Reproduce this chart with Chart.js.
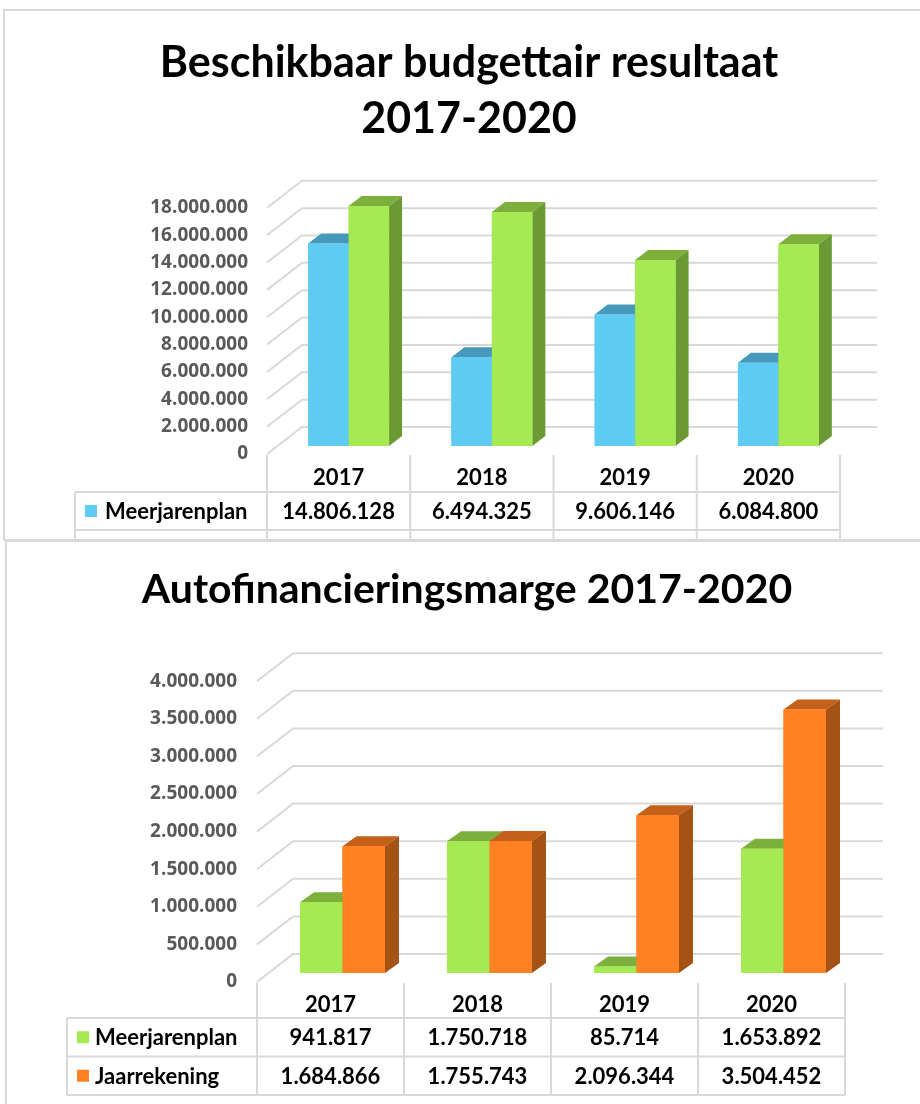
<!DOCTYPE html>
<html>
<head>
<meta charset="utf-8">
<title>Beschikbaar budgettair resultaat / Autofinancieringsmarge</title>
<script src="https://cdn.jsdelivr.net/npm/chart.js@4.4.1/dist/chart.umd.min.js"></script>
<style>
  html, body { margin: 0; padding: 0; background: #fff; }
  body { width: 920px; height: 1104px; position: relative; overflow: hidden; }
  .panel { position: absolute; border: 2px solid #d9d9d9; }
  #panelTop { left: 3px; top: 9px; width: 940px; height: 528px; }
  #panelBottom { left: 5px; top: 540px; width: 940px; height: 600px; }
  canvas { position: absolute; left: 0; }
  #topChart { top: 0; }
  #bottomChart { top: 541px; }
</style>
</head>
<body>
<div class="panel" id="panelTop"></div>
<div class="panel" id="panelBottom"></div>
<canvas id="topChart" width="920" height="540"></canvas>
<canvas id="bottomChart" width="920" height="563"></canvas>
<script>
const years = ['2017', '2018', '2019', '2020'];

// Beschikbaar budgettair resultaat
const budgetPlan = [14806128, 6494325, 9606146, 6084800];
// second row of the table is cut off in the source
const budgetActual = [17550000, 17100000, 13600000, 14750000];
const budgetMax = 18000000;
const budgetStep = 2000000;

// Autofinancieringsmarge
const afmPlan = [941817, 1750718, 85714, 1653892];
const afmActual = [1684866, 1755743, 2096344, 3504452];
const afmMax = 4000000;
const afmStep = 500000;

const BLUE = { front: '#5ecbf2', top: '#4699ba', side: '#3f8db0' };
const GREEN = { front: '#a5ea52', top: '#7daf3d', side: '#6b9a34' };
const ORANGE = { front: '#ff8122', top: '#c4601a', side: '#a55215' };

const GRID = '#d9d9d9';
const TEXT_FONT = 'Lato, "Open Sans", sans-serif';
const TICK_FONT = '"Open Sans", "DejaVu Sans", sans-serif';

// 1234567 -> 1.234.567
const fmt = v => String(Math.round(v)).replace(/\B(?=(\d{3})+(?!\d))/g, '.');

// fakes Excel's 3D column look: back wall grid, bar top/side faces, data table
const fake3d = {
  id: 'fake3d',
  beforeDatasetsDraw(chart, args, o) {
    const { ctx, chartArea: a } = chart;
    const ys = chart.scales.y;
    ctx.save();
    ctx.strokeStyle = GRID;
    ctx.lineWidth = 2;
    ys.ticks.forEach(t => {
      const py = ys.getPixelForValue(t.value);
      ctx.beginPath();
      ctx.moveTo(a.left + o.front[0], py + o.front[1]);
      ctx.lineTo(a.left + o.back[0], py + o.back[1]);
      ctx.lineTo(a.right + o.back[0] + 2, py + o.back[1]);
      ctx.stroke();
    });
    ctx.restore();
  },
  afterDatasetsDraw(chart, args, o) {
    const ctx = chart.ctx;
    const [dx, dy] = o.depth;
    const n = chart.data.labels.length;
    for (let i = 0; i < n; i++) {
      chart.data.datasets.forEach((ds, d) => {
        const el = chart.getDatasetMeta(d).data[i];
        const { x, y, base, width } = el.getProps(['x', 'y', 'base', 'width'], true);
        const l = x - width / 2, r = x + width / 2;
        const faces = o.faces[d];
        ctx.save();
        ctx.fillStyle = faces.top;
        ctx.beginPath();
        ctx.moveTo(l, y); ctx.lineTo(r, y); ctx.lineTo(r + dx, y - dy); ctx.lineTo(l + dx, y - dy);
        ctx.closePath(); ctx.fill();
        ctx.fillStyle = faces.side;
        ctx.beginPath();
        ctx.moveTo(r, y); ctx.lineTo(r + dx, y - dy); ctx.lineTo(r + dx, base - dy); ctx.lineTo(r, base);
        ctx.closePath(); ctx.fill();
        ctx.restore();
        el.draw(ctx);
      });
    }
  },
  afterDraw(chart, args, o) {
    const { ctx, chartArea: a } = chart;
    const xs = chart.scales.x;
    const n = chart.data.labels.length;
    const w = (a.right - a.left) / n;
    const colX = i => a.left + o.front[0] + i * w;
    const floorY = a.bottom + o.front[1];
    const rows = chart.data.datasets;
    const tableBottom = o.rowTop + rows.length * o.rowH;

    ctx.save();
    ctx.strokeStyle = GRID;
    ctx.lineWidth = 2;
    ctx.beginPath();
    for (let i = 0; i <= n; i++) {
      ctx.moveTo(colX(i), floorY + 1);
      ctx.lineTo(colX(i), tableBottom);
    }
    for (let k = 0; k <= rows.length; k++) {
      const ry = o.rowTop + k * o.rowH;
      ctx.moveTo(o.legendLeft, ry);
      ctx.lineTo(colX(n), ry);
    }
    ctx.moveTo(o.legendLeft, o.rowTop);
    ctx.lineTo(o.legendLeft, tableBottom);
    ctx.stroke();

    ctx.font = 'bold 22px ' + TEXT_FONT;
    ctx.textBaseline = 'middle';
    rows.forEach((ds, k) => {
      const mid = o.rowTop + k * o.rowH + o.rowH / 2;
      ctx.fillStyle = ds.backgroundColor;
      ctx.fillRect(o.legendLeft + 10, mid - 6, 12, 12);
      ctx.fillStyle = '#000';
      ctx.textAlign = 'left';
      ctx.fillText(ds.label, o.legendLeft + o.legendText, mid + 1);
      ctx.textAlign = 'center';
      ds.data.forEach((v, i) => {
        ctx.fillText(fmt(v), xs.getPixelForValue(i) + o.front[0], mid + 1);
      });
    });
    ctx.restore();
  }
};

function makeChart(id, cfg) {
  return new Chart(document.getElementById(id), {
    type: 'bar',
    data: {
      labels: years,
      datasets: cfg.series.map(s => ({
        label: s.label,
        data: s.data,
        backgroundColor: s.color.front,
        borderWidth: 0,
        categoryPercentage: cfg.catPct,
        barPercentage: 1
      }))
    },
    options: {
      responsive: false,
      animation: false,
      devicePixelRatio: 1,
      layout: { padding: { left: cfg.padLeft, right: cfg.padRight, top: 0, bottom: 0 } },
      plugins: {
        legend: { display: false },
        tooltip: { enabled: false },
        title: {
          display: true,
          text: cfg.title,
          color: '#000',
          font: { family: TEXT_FONT, size: cfg.titleSize, weight: 'bold', lineHeight: cfg.titleLH },
          padding: { top: cfg.titleTop, bottom: cfg.titleBottom }
        },
        fake3d: {
          front: cfg.front,
          back: cfg.back,
          depth: cfg.depth,
          rowTop: cfg.rowTop,
          rowH: cfg.rowH,
          legendLeft: cfg.legendLeft,
          legendText: cfg.legendText,
          faces: cfg.series.map(s => s.color)
        }
      },
      scales: {
        x: {
          grid: { display: false, drawTicks: false },
          border: { display: false },
          ticks: {
            color: '#000',
            font: { family: TEXT_FONT, size: 22, weight: 'bold' },
            padding: 19,
            labelOffset: cfg.front[0]
          },
          afterFit: s => { s.height = cfg.xHeight; }
        },
        y: {
          min: 0,
          max: cfg.max,
          grid: { display: false, drawTicks: false },
          border: { display: false },
          ticks: {
            stepSize: cfg.step,
            color: '#595959',
            font: { family: TICK_FONT, size: 19, weight: 'bold' },
            padding: cfg.tickPad,
            labelOffset: cfg.front[1],
            callback: v => fmt(v)
          },
          afterFit: s => { s.width = cfg.yWidth; }
        }
      }
    },
    plugins: [fake3d]
  });
}

makeChart('topChart', {
  title: ['Beschikbaar budgettair resultaat', '2017-2020'],
  titleSize: 43, titleLH: 1.3, titleTop: 35, titleBottom: 53,
  series: [
    { label: 'Meerjarenplan', data: budgetPlan, color: BLUE },
    { label: 'Jaarrekening', data: budgetActual, color: GREEN }
  ],
  max: budgetMax, step: budgetStep,
  catPct: 0.565,
  padLeft: 88, padRight: 70, yWidth: 189, tickPad: 29, xHeight: 94,
  front: [-10, 8], back: [25, -19], depth: [13, 10],
  rowTop: 492, rowH: 38, legendLeft: 75, legendText: 30
});

makeChart('bottomChart', {
  title: 'Autofinancieringsmarge 2017-2020',
  titleSize: 41, titleLH: 1.2, titleTop: 24, titleBottom: 58,
  series: [
    { label: 'Meerjarenplan', data: afmPlan, color: GREEN },
    { label: 'Jaarrekening', data: afmActual, color: ORANGE }
  ],
  max: afmMax, step: afmStep,
  catPct: 0.578,
  padLeft: 77, padRight: 63, yWidth: 192, tickPad: 32, xHeight: 131,
  front: [-12, 9], back: [24, -19], depth: [14, 10],
  rowTop: 477, rowH: 38.5, legendLeft: 67, legendText: 28
});
</script>
</body>
</html>
